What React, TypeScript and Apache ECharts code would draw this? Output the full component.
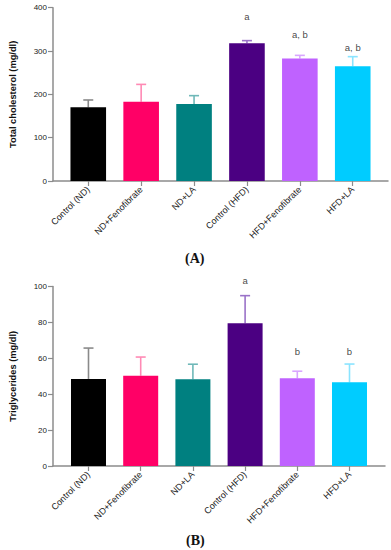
import React, { useEffect, useRef } from "react";
import * as echarts from "echarts";

const categories = ["Control (ND)", "ND+Fenofibrate", "ND+LA", "Control (HFD)", "HFD+Fenofibrate", "HFD+LA"];
const barColors = ["#000000", "#ff0066", "#008080", "#4b0082", "#bf62ff", "#00ccff"];
const errColors = ["#8a8a8a", "#ff8ab5", "#6fb8b8", "#9a72c8", "#d9a6ff", "#8ae4ff"];

const cholMean = [170, 183, 178, 318, 283, 265];
const cholSD = [17, 40, 19, 6, 7, 22];
const cholMarks = ["", "", "", "a", "a, b", "a, b"];
const cholMarkY = [0, 0, 0, 379, 339, 309];
const cholTicks = [0, 100, 200, 300, 400];

const tgMean = [48.5, 50.3, 48.3, 79.5, 48.9, 46.6];
const tgSD = [17.2, 10.4, 8.4, 15.4, 3.9, 10.2];
const tgMarks = ["", "", "", "a", "b", "b"];
const tgMarkY = [0, 0, 0, 103.6, 63.7, 63.7];
const tgTicks = [0, 20, 40, 60, 80, 100];

const axisGray = "#8c8c8c";
const FONT = "Liberation Sans, Arial, sans-serif";

function buildPanel(idx: number, name: string, mean: number[], sd: number[], marks: string[], markY: number[], ticks: number[], barW: number) {
  const xAxis = {
    type: "value",
    gridIndex: idx,
    min: idx === 0 ? 1 / 3 : 0.32,
    max: idx === 0 ? 6 + 2 / 3 : 6.68,
    splitLine: { show: false },
    axisLine: { show: true, lineStyle: { color: axisGray, width: 1.5 } },
    axisTick: { show: true, length: 5, customValues: categories.map((_, i) => i + 1), lineStyle: { color: axisGray, width: 1.2 } },
    axisLabel: {
      customValues: categories.map((_, i) => i + 1),
      formatter: (v: number) => categories[Math.round(v) - 1] ?? "",
      rotate: 45,
      fontSize: 9,
      fontFamily: FONT,
      color: "#1a1a1a",
      margin: 7,
    },
  };
  const yAxis = {
    type: "value",
    gridIndex: idx,
    min: ticks[0],
    max: ticks[ticks.length - 1],
    interval: ticks[1] - ticks[0],
    splitLine: { show: false },
    axisLine: { show: true, lineStyle: { color: axisGray, width: 1.5 } },
    axisTick: { show: true, length: 5, lineStyle: { color: axisGray, width: 1.2 } },
    axisLabel: { fontSize: 8, fontFamily: FONT, color: "#1a1a1a", margin: 6 },
    name,
    nameLocation: "middle",
    nameGap: 36,
    nameTextStyle: { fontSize: 9.3, fontWeight: "bold", fontFamily: FONT, color: "#111" },
  };
  const series = [
    {
      type: "bar",
      xAxisIndex: idx,
      yAxisIndex: idx,
      barWidth: barW,
      data: mean.map((m, i) => ({ value: [i + 1, m], itemStyle: { color: barColors[i] } })),
    },
    {
      type: "custom",
      xAxisIndex: idx,
      yAxisIndex: idx,
      data: mean.map((m, i) => [i + 1, m, m + sd[i], i]),
      renderItem: (params: any, api: any) => {
        const x = api.value(0);
        const lo = api.coord([x, api.value(1)]);
        const hi = api.coord([x, api.value(2)]);
        const c = errColors[api.value(3)];
        const half = 5;
        return {
          type: "group",
          children: [
            { type: "line", shape: { x1: lo[0], y1: lo[1], x2: hi[0], y2: hi[1] }, style: { stroke: c, lineWidth: 1.6 } },
            { type: "line", shape: { x1: hi[0] - half, y1: hi[1], x2: hi[0] + half, y2: hi[1] }, style: { stroke: c, lineWidth: 1.6 } },
          ],
        };
      },
      z: 1,
    },
    {
      type: "scatter",
      xAxisIndex: idx,
      yAxisIndex: idx,
      clip: false,
      symbolSize: 1,
      itemStyle: { color: "rgba(0,0,0,0)" },
      data: marks.map((t, i) => (t ? [i + 1, markY[i], t] : null)).filter((d) => d),
      label: {
        show: true,
        position: "inside",
        formatter: (p: any) => p.data[2],
        fontSize: 9.5,
        fontFamily: FONT,
        color: "#111",
      },
    },
  ];
  return { xAxis, yAxis, series };
}

export default function App() {
  const ref = useRef<HTMLDivElement>(null);
  useEffect(() => {
    if (!ref.current) return;
    const chart = echarts.init(ref.current, null, { renderer: "svg" });
    const a = buildPanel(0, "Total cholesterol (mg/dl)", cholMean, cholSD, cholMarks, cholMarkY, cholTicks, 35.6);
    const b = buildPanel(1, "Triglycerides (mg/dl)", tgMean, tgSD, tgMarks, tgMarkY, tgTicks, 35);
    chart.setOption({
      animation: false,
      backgroundColor: "#ffffff",
      grid: [
        { left: 48, top: 7.7, width: 340, height: 173.3 },
        { left: 48, top: 286.5, width: 337, height: 179.5 },
      ],
      xAxis: [a.xAxis, b.xAxis],
      yAxis: [a.yAxis, b.yAxis],
      series: [...a.series, ...b.series],
      graphic: [
        { type: "text", left: 185, top: 251, style: { text: "(A)", fontSize: 14, fontWeight: "bold", fontFamily: "Liberation Serif, Times New Roman, serif", fill: "#111" } },
        { type: "text", left: 186, top: 533, style: { text: "(B)", fontSize: 14, fontWeight: "bold", fontFamily: "Liberation Serif, Times New Roman, serif", fill: "#111" } },
      ],
    });
    return () => chart.dispose();
  }, []);
  return <div ref={ref} style={{ position: "fixed", left: 0, top: 0, width: 391, height: 550, background: "#fff" }} />;
}
